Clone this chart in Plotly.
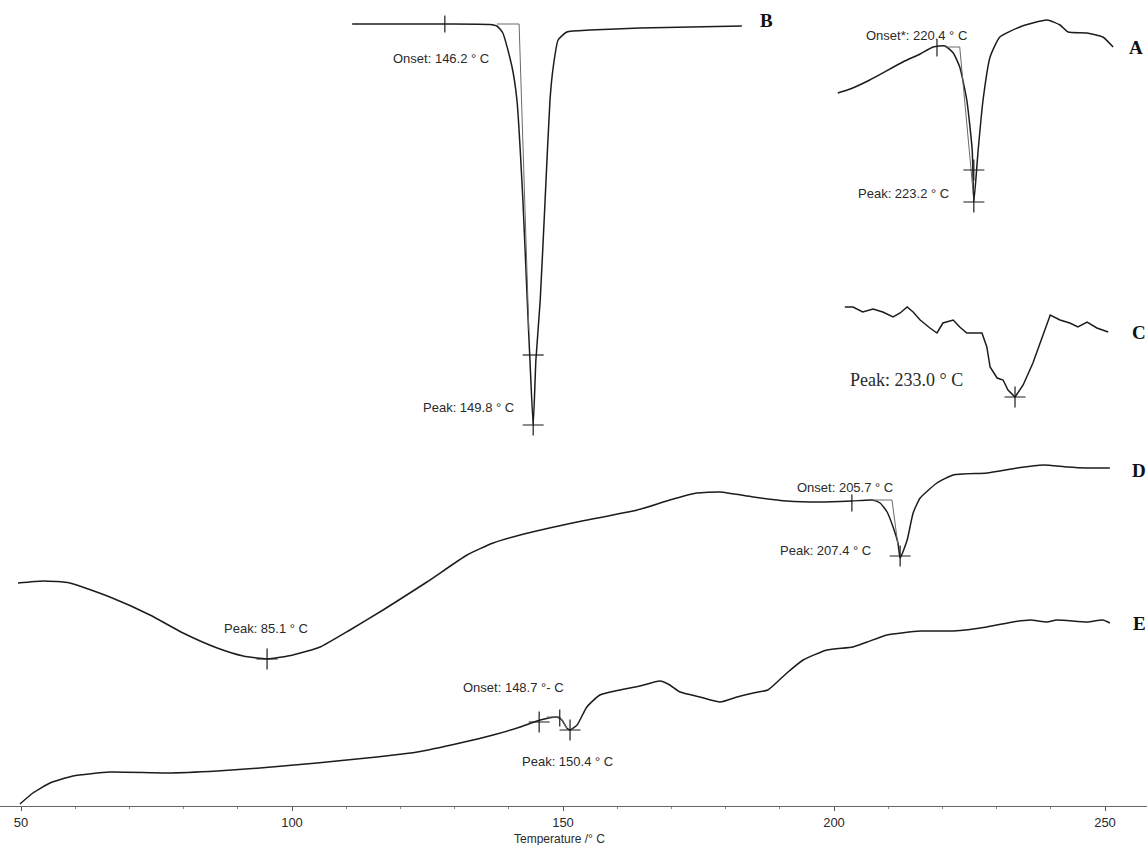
import plotly.graph_objects as go

# ---- DSC thermograms (temperature in deg C, heat flow in arbitrary units, endo down) ----
B_T = [111.1, 128.2, 136.5, 137.8, 138.9, 140.6, 141.5, 142.6, 143.4, 143.9, 144.5, 145.0,
       145.8, 146.7, 147.6, 148.2, 149.1, 150.7, 155.0, 164.2, 183.0]
B_HF = [784, 784, 783.5, 782, 775, 741, 708, 608, 508, 448, 383, 448,
        508, 608, 708, 741, 768, 776, 778, 780, 782]

A_T = [200.7, 203.0, 206.6, 212.7, 215.9, 218.3, 220.5, 222.0, 223.2, 224.5, 225.5, 225.8,
       226.6, 227.5, 228.8, 230.6, 234.3, 239.3, 241.7, 243.2, 246.7, 249.6, 251.5]
A_HF = [715, 719, 728, 746, 754, 761, 762, 755, 741, 708, 658, 606,
        658, 708, 751, 771, 781, 788, 783, 776, 775, 771, 761]

C_T = [202.0, 203.5, 205.3, 207.2, 209.0, 210.9, 212.2, 213.5, 214.6, 215.9, 217.7, 219.0,
       220.1, 222.0, 223.2, 224.5, 227.3, 228.2, 228.8, 230.1, 231.2, 232.1, 233.4, 234.9,
       236.7, 238.0, 239.9, 241.7, 243.5, 245.0, 246.7, 248.5, 250.6]
C_HF = [501, 501, 496, 499, 496, 491, 495, 501, 496, 488, 480, 475,
        485, 488, 481, 475, 475, 461, 441, 430, 428, 418, 411, 423,
        445, 465, 493, 488, 485, 481, 486, 480, 476]

D_T = [49.45, 54.1, 59.0, 66.4, 73.8, 79.9, 86.2, 91.0, 95.4, 100.2, 105.2, 110.7, 116.8,
       124.9, 132.3, 137.1, 142.1, 152.6, 163.7, 169.7, 174.7, 179.0, 185.1, 191.3, 197.4,
       203.3, 207.0, 208.5, 209.8, 210.9, 211.8, 212.2, 213.5, 214.6, 215.9, 219.0, 222.0,
       228.2, 233.8, 238.6, 243.0, 246.7, 250.9]
D_HF = [225, 227, 225, 211, 193, 175, 160, 152, 149, 153, 161, 178, 198,
        226, 253, 265, 273, 286, 298, 308, 315, 316, 311, 307, 306,
        307, 308, 305, 296, 281, 265, 250, 268, 295, 310, 325, 333,
        335, 340, 343, 341, 340, 340]

E_T = [49.8, 52.2, 55.35, 59.6, 66.4, 76.9, 86.2, 94.1, 104.6, 113.8, 123.1, 131.0, 137.1,
       142.1, 145.8, 148.9, 149.8, 150.7, 151.3, 152.6, 154.4, 156.8, 160.5, 164.2, 167.9,
       169.7, 171.6, 175.3, 179.0, 182.1, 185.1, 187.8, 191.3, 194.3, 198.7, 203.5, 206.1,
       209.8, 215.9, 222.0, 228.2, 233.0, 236.2, 239.3, 241.1, 246.7, 249.6, 250.9]
E_HF = [4, 15, 25, 32, 36, 35, 37, 40, 45, 50, 56, 65, 73,
        81, 88, 91, 88, 80, 78, 83, 101, 113, 118, 122, 127,
        123, 116, 111, 106, 111, 115, 118, 135, 148, 158, 161, 166,
        173, 177, 177, 181, 186, 188, 186, 188, 186, 188, 185]

# onset tangent constructions
TAN_B_T = [137.8, 141.9, 143.7]; TAN_B_HF = [784, 784, 478]
TAN_A_T = [220.5, 223.2, 225.8]; TAN_A_HF = [761, 761, 608]
TAN_D_T = [207.0, 210.7, 211.8]; TAN_D_HF = [308, 308, 263]
TAN_E_T = [147.0, 149.4, 150.7]; TAN_E_HF = [91, 91, 80]

# markers: onset ticks (vertical) and peak crosses
ONSET_T = [128.2, 219.0, 203.3, 149.4]
ONSET_HF = [784, 760, 305, 90]
CROSS_T = [144.5, 225.8, 225.8, 233.4, 212.2, 95.4, 145.6, 151.3]
CROSS_HF = [383, 638, 606, 411, 252, 149, 86, 78]
BAR_T = [144.5]
BAR_HF = [453]

# text labels
LBL_TEXT = ["Onset: 146.2 ° C", "Peak: 149.8 ° C", "Onset*: 220.4 ° C", "Peak: 223.2 ° C",
            "Onset: 205.7 ° C", "Peak: 207.4 ° C", "Peak: 85.1 ° C",
            "Onset: 148.7 °- C", "Peak: 150.4 ° C"]
LBL_T = [127.5, 132.5, 215.3, 212.9, 202.0, 198.5, 95.2, 140.8, 150.9]
LBL_HF = [750, 401, 773, 615, 321, 258, 180, 121, 47]

C_PEAK_TEXT = "Peak: 233.0 ° C"
C_PEAK_T, C_PEAK_HF = 213.3, 428

SERIES_NAMES = ["B", "A", "C", "D", "E"]
SERIES_T = [187.6, 255.7, 256.3, 256.3, 256.3]
SERIES_HF = [788, 761, 476, 338, 185]

TICKS = [50, 100, 150, 200, 250]

LINE = "#1c1c1c"
TXT = "#2a2a2a"
SANS = "Liberation Sans, Arial, sans-serif"
SERIF = "Liberation Serif, Times New Roman, serif"

fig = go.Figure()
for T, HF, shape in [(B_T, B_HF, "spline"), (A_T, A_HF, "spline"), (C_T, C_HF, "linear"),
                     (D_T, D_HF, "spline"), (E_T, E_HF, "spline")]:
    fig.add_trace(go.Scatter(x=T, y=HF, mode="lines",
                             line=dict(color=LINE, width=1.5, shape=shape, smoothing=0.5),
                             hoverinfo="skip"))
for T, HF in [(TAN_B_T, TAN_B_HF), (TAN_A_T, TAN_A_HF), (TAN_D_T, TAN_D_HF), (TAN_E_T, TAN_E_HF)]:
    fig.add_trace(go.Scatter(x=T, y=HF, mode="lines",
                             line=dict(color="#6a6a6a", width=1), hoverinfo="skip"))

fig.add_trace(go.Scatter(x=ONSET_T, y=ONSET_HF, mode="markers",
                         marker=dict(symbol="line-ns", size=12, line=dict(color=LINE, width=1.2)),
                         hoverinfo="skip"))
fig.add_trace(go.Scatter(x=CROSS_T, y=CROSS_HF, mode="markers",
                         marker=dict(symbol="cross-thin", size=15, line=dict(color=LINE, width=1.2)),
                         hoverinfo="skip"))
fig.add_trace(go.Scatter(x=BAR_T, y=BAR_HF, mode="markers",
                         marker=dict(symbol="line-ew", size=15, line=dict(color=LINE, width=1.2)),
                         hoverinfo="skip"))

for txt, t, hf in zip(LBL_TEXT, LBL_T, LBL_HF):
    fig.add_annotation(x=t, y=hf, text=txt, showarrow=False,
                       font=dict(family=SANS, size=13, color=TXT))
fig.add_annotation(x=C_PEAK_T, y=C_PEAK_HF, text=C_PEAK_TEXT, showarrow=False,
                   font=dict(family=SERIF, size=18, color=TXT))
for name, t, hf in zip(SERIES_NAMES, SERIES_T, SERIES_HF):
    fig.add_annotation(x=t, y=hf, text="<b>" + name + "</b>", showarrow=False,
                       font=dict(family=SERIF, size=19, color="#111111"))

fig.add_annotation(x=149.4, y=-0.0415, xref="x", yref="paper", yanchor="middle",
                   text="Temperature /° C", showarrow=False,
                   font=dict(family=SANS, size=12, color=TXT))

fig.update_layout(
    width=1147, height=845,
    margin=dict(l=0, r=0, t=0, b=39),
    paper_bgcolor="white", plot_bgcolor="white",
    showlegend=False,
    xaxis=dict(range=[46.125, 257.75], showgrid=False, zeroline=False,
               showline=True, linecolor="#666666", linewidth=1,
               ticks="outside", ticklen=4, tickcolor="#555555",
               tickvals=TICKS, ticktext=[str(t) for t in TICKS],
               tickfont=dict(family=SANS, size=13, color=TXT),
               minor=dict(dtick=10, tick0=50, ticks="outside", ticklen=2, tickcolor="#888888")),
    yaxis=dict(range=[2, 808], visible=False, showgrid=False, zeroline=False),
)

fig.write_html("out.html")
